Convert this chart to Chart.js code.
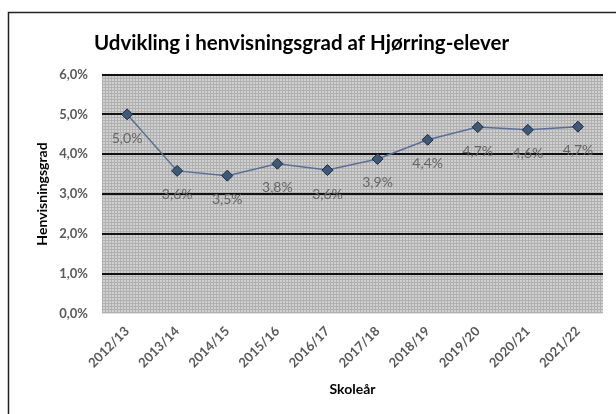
<!DOCTYPE html>
<html>
<head>
<meta charset="utf-8">
<script src="https://cdn.jsdelivr.net/npm/chart.js@4"></script>
<style>
  html, body { margin: 0; padding: 0; background: #fff; }
  #wrap { width: 616px; height: 414px; position: relative; }
</style>
</head>
<body>
<div id="wrap"><canvas id="c" width="616" height="414"></canvas></div>
<script>
const categories = ["2012/13","2013/14","2014/15","2015/16","2016/17","2017/18","2018/19","2019/20","2020/21","2021/22"];
const henvisningsgrad = [5.0, 3.58, 3.46, 3.76, 3.60, 3.88, 4.36, 4.68, 4.61, 4.69];
const yTicks = [0, 1, 2, 3, 4, 5, 6];
const titleText = "Udvikling i henvisningsgrad af Hjørring-elever";
const yTitle = "Henvisningsgrad";
const xTitle = "Skoleår";

const FONT = 'Lato, "Open Sans", sans-serif';
const fmt = v => v.toFixed(1).replace('.', ',') + '%';

// hatched background pattern
function makePattern(ctx) {
  const t = document.createElement('canvas');
  t.width = 3; t.height = 3;
  const g = t.getContext('2d');
  g.fillStyle = '#d0d0d0';
  g.fillRect(0, 0, 3, 3);
  g.fillStyle = '#b0b0b0';
  g.fillRect(0, 0, 3, 1);
  g.fillRect(0, 0, 1, 3);
  return ctx.createPattern(t, 'repeat');
}

const framePlugin = {
  id: 'frame',
  beforeDraw(chart) {
    const ctx = chart.ctx;
    const a = chart.chartArea;
    ctx.save();
    ctx.fillStyle = '#fff';
    ctx.fillRect(0, 0, chart.width, chart.height);
    ctx.strokeStyle = '#222';
    ctx.lineWidth = 1.5;
    ctx.beginPath();
    ctx.moveTo(616, 12.5);
    ctx.lineTo(8.5, 12.5);
    ctx.lineTo(8.5, 414);
    ctx.stroke();
    ctx.fillStyle = makePattern(ctx);
    ctx.fillRect(a.left, a.top, a.right - a.left, a.bottom - a.top);
    ctx.restore();
  }
};

const labelPlugin = {
  id: 'pointLabels',
  afterDatasetsDraw(chart) {
    const ctx = chart.ctx;
    const meta = chart.getDatasetMeta(0);
    const data = chart.data.datasets[0].data;
    ctx.save();
    ctx.font = '14px ' + FONT;
    ctx.fillStyle = '#666666';
    ctx.textAlign = 'center';
    ctx.textBaseline = 'middle';
    meta.data.forEach((pt, i) => {
      ctx.fillText(fmt(data[i]), pt.x, pt.y + 24);
    });
    ctx.restore();
  }
};

new Chart(document.getElementById('c'), {
  type: 'line',
  data: {
    labels: categories,
    datasets: [{
      data: henvisningsgrad,
      borderColor: '#5a6f98',
      borderWidth: 1.5,
      pointStyle: 'rectRot',
      pointRadius: 5.5,
      pointBackgroundColor: '#3e5878',
      pointBorderColor: '#1e2b3b',
      pointBorderWidth: 1,
      tension: 0
    }]
  },
  options: {
    responsive: false,
    animation: false,
    devicePixelRatio: 1,
    layout: { padding: { left: 0, right: 13, top: 0, bottom: 0 } },
    plugins: {
      legend: { display: false },
      tooltip: { enabled: false },
      title: {
        display: true,
        text: titleText,
        color: '#000',
        font: { family: FONT, size: 20.5, weight: 'bold' },
        padding: { top: 31.5, bottom: 18.4 }
      }
    },
    scales: {
      x: {
        offset: true,
        grid: { display: false, drawTicks: false },
        border: { display: false },
        ticks: {
          color: '#595959',
          font: { family: FONT, size: 13, weight: 'bold' },
          minRotation: 45, maxRotation: 45,
          padding: 10,
          autoSkip: false
        },
        title: {
          display: true,
          text: xTitle,
          color: '#000',
          font: { family: FONT, size: 14, weight: 'bold' },
          padding: { top: 0, bottom: 16 }
        },
        afterFit(s) { s.height = 100.5; }
      },
      y: {
        min: 0, max: 6,
        afterBuildTicks(s) { s.ticks = yTicks.map(v => ({ value: v })); },
        grid: {
          drawTicks: false,
          color: c => (c.tick && c.tick.value === 0) ? 'rgba(0,0,0,0)' : '#111',
          lineWidth: 2
        },
        border: { display: false },
        ticks: {
          color: '#595959',
          font: { family: FONT, size: 13, weight: 'bold' },
          padding: 14,
          callback: v => fmt(v)
        },
        title: {
          display: true,
          text: yTitle,
          color: '#000',
          font: { family: FONT, size: 14, weight: 'bold' },
          padding: { top: 34, bottom: 0 }
        },
        afterFit(s) { s.width = 102; }
      }
    }
  },
  plugins: [framePlugin, labelPlugin]
});
</script>
</body>
</html>
